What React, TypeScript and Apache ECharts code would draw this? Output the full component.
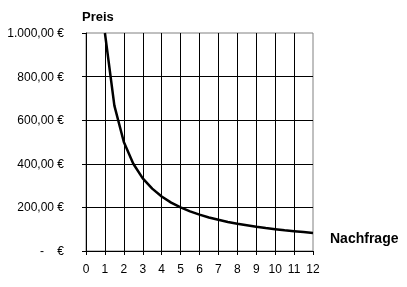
import React, { useEffect, useRef } from "react";
import * as echarts from "echarts";

const demand = [1, 1.5, 2, 2.5, 3, 3.5, 4, 4.5, 5, 5.5, 6, 6.5, 7, 7.5, 8, 8.5, 9, 9.5, 10, 10.5, 11, 11.5, 12];
const price = [1000, 667, 500, 400, 333, 286, 250, 222, 200, 182, 167, 154, 143, 133, 125, 118, 111, 105, 100, 95, 91, 87, 83];
const yTitle = "Preis";
const xTitle = "Nachfrage";

const fmtEuro = (v: number) => {
  if (v === 0) return "-\u00a0\u00a0\u00a0\u00a0€";
  const s = v.toFixed(2);
  const [i, d] = s.split(".");
  const ii = i.replace(/\B(?=(\d{3})+(?!\d))/g, ".");
  return ii + "," + d + " €";
};

export default function App() {
  const ref = useRef<HTMLDivElement>(null);
  useEffect(() => {
    const chart = echarts.init(ref.current!, undefined, { renderer: "svg" });
    const font = "'Liberation Sans', Arial, sans-serif";
    chart.setOption({
      animation: false,
      textStyle: { fontFamily: font },
      grid: {
        left: 86, top: 33, right: 94, bottom: 36,
        show: true, borderColor: "#808080", borderWidth: 1, backgroundColor: "transparent",
      },
      xAxis: {
        type: "value", min: 0, max: 12, interval: 1,
        axisLine: { lineStyle: { color: "#000", width: 1 } },
        axisTick: { show: true, length: 4, lineStyle: { color: "#000" } },
        axisLabel: { color: "#000", fontSize: 12, margin: 12, fontFamily: font },
        splitLine: { show: true, showMaxLine: false, showMinLine: false, lineStyle: { color: "#000", width: 1 } },
      },
      yAxis: {
        type: "value", min: 0, max: 1000, interval: 200,
        axisLine: { show: true, lineStyle: { color: "#000", width: 1 } },
        axisTick: { show: true, length: 4, lineStyle: { color: "#000" } },
        axisLabel: { color: "#000", fontSize: 12, margin: 22, fontFamily: font, formatter: fmtEuro },
        splitLine: { show: true, showMaxLine: false, showMinLine: false, lineStyle: { color: "#000", width: 1 } },
      },
      graphic: [
        { type: "text", left: 82, top: 10, style: { text: yTitle, fill: "#000", font: `bold 13px ${font}` } },
        { type: "text", left: 330, top: 231, style: { text: xTitle, fill: "#000", font: `bold 14px ${font}` } },
      ],
      series: [
        {
          type: "line",
          data: demand.map((x, i) => [x, price[i]]),
          symbol: "none",
          lineStyle: { color: "#000", width: 2.5 },
        },
      ],
    });
    return () => chart.dispose();
  }, []);
  return <div ref={ref} style={{ position: "fixed", left: 0, top: 0, width: 407, height: 287 }} />;
}
